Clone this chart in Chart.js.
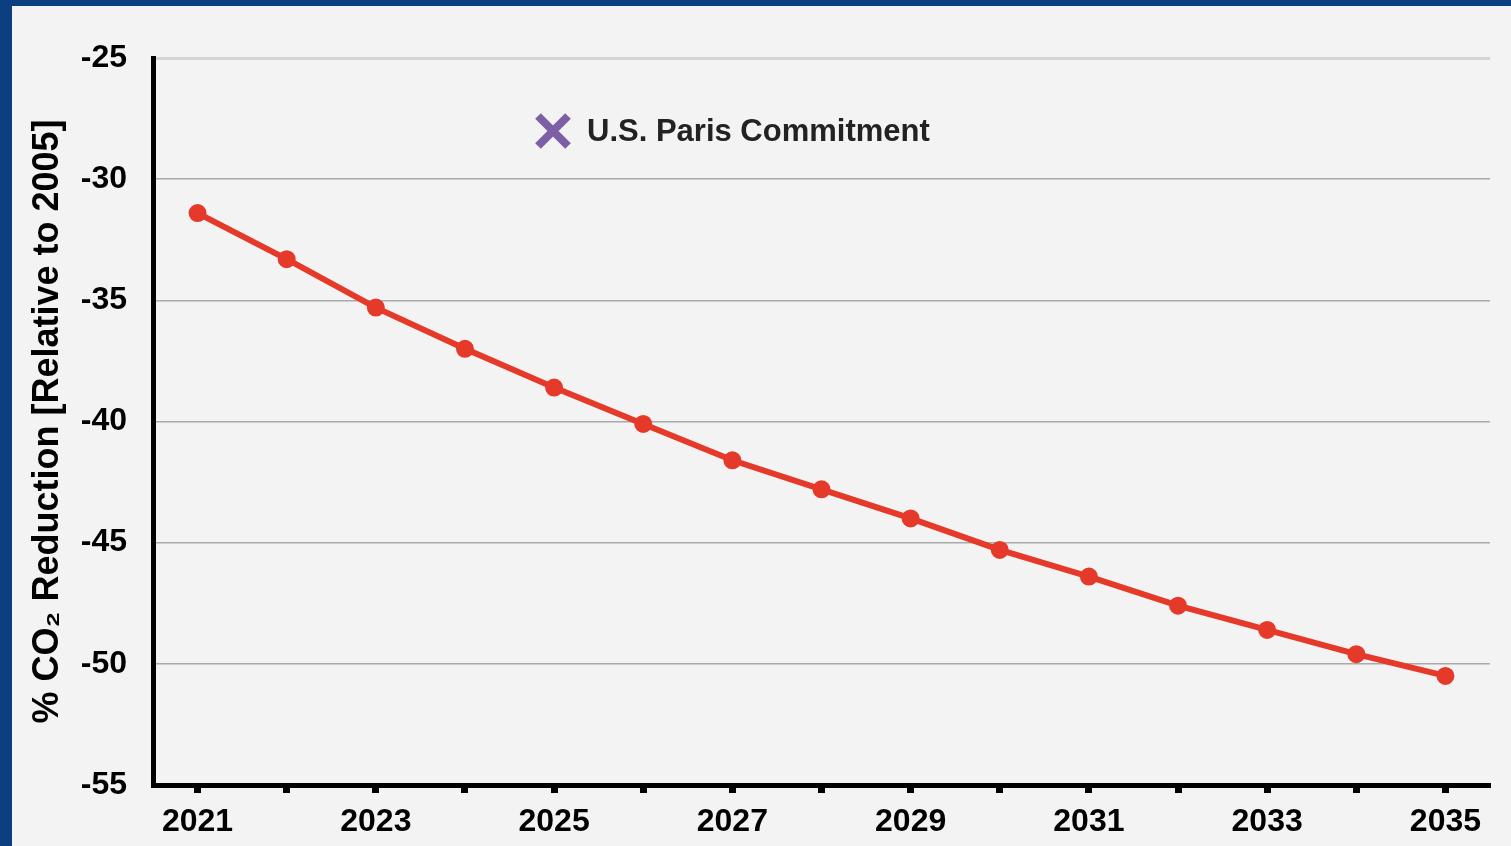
<!DOCTYPE html>
<html>
<head>
<meta charset="utf-8">
<script src="https://cdn.jsdelivr.net/npm/chart.js@4"></script>
<style>
  body { margin: 0; background: #0b3f80; width: 1511px; height: 846px; overflow: hidden; }
  #wrap { position: absolute; left: 12px; top: 6px; width: 1499px; height: 840px; background: #f3f3f3; }
</style>
</head>
<body>
<div id="wrap"><canvas id="co2Chart" width="1499" height="840"></canvas></div>
<script>
const years = ['2021', '2022', '2023', '2024', '2025', '2026', '2027', '2028',
    '2029', '2030', '2031', '2032', '2033', '2034', '2035'];
const reductionValues = [-31.4, -33.3, -35.3, -37.0, -38.6, -40.1, -41.6, -42.8,
    -44.0, -45.3, -46.4, -47.6, -48.6, -49.6, -50.5];
const parisValues = [];
const yTicks = [-25, -30, -35, -40, -45, -50, -55];

const font = 'Liberation Sans, Arial, sans-serif';

// legend drawn inside the plot area, like the original
const insideLegend = {
    id: 'insideLegend',
    afterDraw(chart) {
        const ds = chart.data.datasets[1];
        const ctx = chart.ctx;
        const cx = 541, cy = 125, r = 15;
        ctx.save();
        ctx.strokeStyle = ds.borderColor;
        ctx.lineWidth = 8;
        ctx.beginPath();
        ctx.moveTo(cx - r, cy - r); ctx.lineTo(cx + r, cy + r);
        ctx.moveTo(cx + r, cy - r); ctx.lineTo(cx - r, cy + r);
        ctx.stroke();
        ctx.fillStyle = '#222';
        ctx.font = 'bold 31px ' + font;
        ctx.textBaseline = 'middle';
        ctx.fillText(ds.label, 575, cy + 1);
        ctx.restore();
    }
};

new Chart(document.getElementById('co2Chart'), {
    type: 'line',
    data: {
        labels: years,
        datasets: [{
            label: 'CO2 Reduction',
            data: reductionValues,
            borderColor: '#e5392a',
            backgroundColor: '#e5392a',
            borderWidth: 6,
            pointRadius: 6,
            pointHoverRadius: 6,
            tension: 0
        }, {
            label: 'U.S. Paris Commitment',
            data: parisValues,
            borderColor: '#7d5fa6',
            backgroundColor: '#7d5fa6',
            pointStyle: 'crossRot',
            showLine: false
        }]
    },
    options: {
        responsive: false,
        animation: false,
        layout: { padding: { left: 0, top: 52, right: 21, bottom: 0 } },
        plugins: { legend: { display: false }, tooltip: { enabled: false } },
        scales: {
            x: {
                offset: true,
                grid: {
                    offset: false,
                    drawOnChartArea: false,
                    drawTicks: true,
                    tickLength: 8,
                    tickWidth: 7,
                    tickColor: '#000'
                },
                border: { color: '#000', width: 5 },
                ticks: {
                    autoSkip: false,
                    maxRotation: 0,
                    padding: 10,
                    color: '#000',
                    font: { family: font, size: 32, weight: 'bold' },
                    callback: function (value, index) {
                        return index % 2 === 0 ? this.getLabelForValue(value) : '';
                    }
                },
                afterFit(scale) { scale.height = 61; }
            },
            y: {
                min: -55,
                max: -25,
                afterBuildTicks(scale) { scale.ticks = yTicks.map(v => ({ value: v })); },
                grid: {
                    drawTicks: false,
                    color: ctx => ctx.tick && ctx.tick.value === -25 ? '#d4d4d4' : '#aaaaaa',
                    lineWidth: ctx => ctx.tick && ctx.tick.value === -25 ? 3 : 1.5
                },
                border: { color: '#000', width: 5 },
                ticks: {
                    padding: 26,
                    color: '#000',
                    font: { family: font, size: 32, weight: 'bold' }
                },
                title: {
                    display: true,
                    text: '% CO\u2082 Reduction [Relative to 2005]',
                    color: '#000',
                    font: { family: font, size: 36, weight: 'bold' },
                    padding: { top: 14, bottom: 0 }
                },
                afterFit(scale) { scale.width = 141; }
            }
        }
    },
    plugins: [insideLegend]
});
</script>
</body>
</html>
